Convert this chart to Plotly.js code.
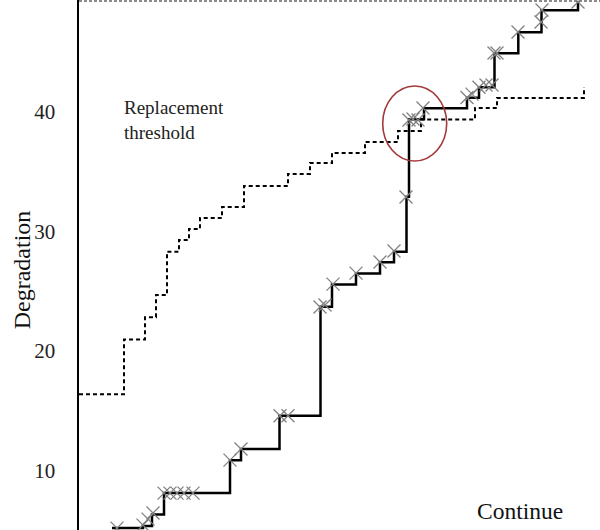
<!DOCTYPE html>
<html>
<head>
<meta charset="utf-8">
<script src="https://cdn.plot.ly/plotly-3.0.1.min.js"></script>
<style>html,body{margin:0;padding:0;background:#fff;}#chart{width:600px;height:530px;}</style>
</head>
<body>
<div id="chart"></div>
<script>
// Time positions (arbitrary units) and degradation levels
var thresholdX = [79, 124, 145, 156, 167, 179, 189, 200, 222, 244, 288, 310, 332, 365, 398, 421, 475, 497, 584];
var thresholdY = [16.36, 20.96, 22.81, 24.67, 28.30, 29.28, 30.20, 31.12, 32.04, 33.80, 34.81, 35.73, 36.57, 37.49, 38.41, 39.37, 40.33, 41.17, 42.09];

var degradX = [112, 143, 152, 164, 230, 241, 279.5, 320.5, 332, 356, 380, 394, 406.5, 409, 424, 467, 479, 494.5, 518.3, 541.5, 578];
var degradY = [5.16, 5.33, 6.29, 8.09, 10.85, 11.78, 14.56, 23.69, 25.55, 26.47, 27.41, 28.30, 32.91, 39.39, 40.31, 41.20, 42.07, 44.92, 46.67, 48.52, 49.30];

var inspectX = [117, 143, 148, 153, 164, 170, 177, 184, 193, 230, 241, 280, 288, 320, 325, 333, 356, 380, 394, 406, 409, 413, 418, 423, 467, 472, 479, 486, 492, 494, 497, 518, 541, 542, 578];
var inspectY = [5.16, 5.41, 5.91, 6.42, 8.09, 8.09, 8.09, 8.09, 8.09, 10.85, 11.78, 14.56, 14.56, 23.67, 23.84, 25.59, 26.51, 27.44, 28.36, 32.88, 39.33, 39.41, 39.33, 40.34, 41.21, 41.50, 42.07, 42.26, 42.26, 44.94, 44.94, 46.70, 47.54, 48.54, 49.21];

var failureLevel = 49.3;
var yTicks = [10, 20, 30, 40];
var yTickText = ['10', '20', '30', '40'];
var topTickText = '50';

var serif = 'Liberation Serif, Times New Roman, serif';

var traces = [
  {x: [79, 600], y: [failureLevel, failureLevel], mode: 'lines', line: {color: '#666', width: 1.5, dash: '3px,2px'}, hoverinfo: 'skip', showlegend: false},
  {x: thresholdX, y: thresholdY, mode: 'lines', line: {shape: 'hv', color: '#000', width: 2, dash: '4px,3px'}, showlegend: false},
  {x: degradX, y: degradY, mode: 'lines', line: {shape: 'hv', color: '#000', width: 2.5}, showlegend: false},
  {x: inspectX, y: inspectY, mode: 'markers', marker: {symbol: 'x-thin-open', size: 13, color: '#808080', line: {color: '#808080', width: 1.3}}, showlegend: false}
];

var layout = {
  width: 600, height: 530,
  margin: {l: 79, r: 0, t: 0, b: 0, pad: 0},
  paper_bgcolor: '#fff', plot_bgcolor: '#fff',
  xaxis: {range: [79, 600], visible: false, showgrid: false, zeroline: false},
  yaxis: {
    range: [5.0, 49.38], showgrid: false, zeroline: false,
    showline: true, linecolor: '#000', linewidth: 1.6,
    ticks: '', tickvals: yTicks, ticktext: yTickText,
    ticklabelstandoff: 18,
    tickfont: {family: serif, size: 21, color: '#222'}
  },
  shapes: [
    {type: 'circle', xref: 'x', yref: 'y', x0: 382.7, x1: 446.7, y0: 35.9, y1: 42.18, line: {color: '#a33a3a', width: 1.6}}
  ],
  annotations: [
    {x: -0.1094, y: 0.49, xref: 'paper', yref: 'paper', xanchor: 'center', yanchor: 'middle', textangle: -90, showarrow: false,
     text: 'Degradation', font: {family: serif, size: 24, color: '#111'}},
    {x: -0.0365, y: 1, xref: 'paper', yref: 'paper', xanchor: 'right', yanchor: 'middle', yshift: 7, showarrow: false,
     text: topTickText, font: {family: serif, size: 21, color: '#222'}},
    {x: 122, y: 39.37, xref: 'x', yref: 'y', xanchor: 'left', yanchor: 'middle', align: 'left', showarrow: false,
     text: 'Replacement<br>threshold', font: {family: serif, size: 19, color: '#222'}},
    {x: 475, y: 6.58, xref: 'x', yref: 'y', xanchor: 'left', yanchor: 'middle', showarrow: false,
     text: 'Continue', font: {family: serif, size: 23.5, color: '#111'}}
  ]
};

Plotly.newPlot('chart', traces, layout, {staticPlot: true, displayModeBar: false});
</script>
</body>
</html>
